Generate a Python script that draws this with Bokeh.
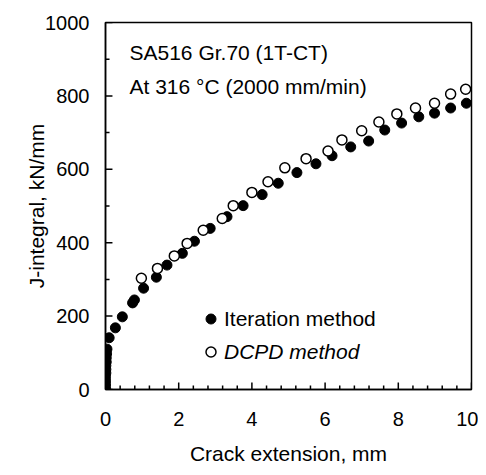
import numpy as np
from bokeh.plotting import figure
from bokeh.models import Range1d, Legend, LegendItem, Label, FixedTicker
from bokeh.embed import file_html
from bokeh.resources import INLINE

# Iteration method (filled)
iter_x = [0.00, 0.00, 0.00, 0.00, 0.00, 0.01, 0.01, 0.01, 0.02, 0.02, 0.03, 0.04,
          0.10, 0.27, 0.46, 0.74, 0.79, 1.04, 1.39, 1.68, 2.10, 2.43, 2.86, 3.32,
          3.76, 4.28, 4.72, 5.23, 5.75, 6.19, 6.70, 7.19, 7.63, 8.09, 8.56, 8.99,
          9.43, 9.86]
iter_j = [0, 8, 16, 25, 35, 45, 55, 65, 75, 86, 97, 110,
          141, 168, 198, 236, 244, 276, 306, 339, 371, 404, 439, 471,
          501, 531, 562, 591, 615, 637, 661, 677, 707, 726, 743, 753,
          767, 780]

# DCPD method (open)
dcpd_x = [0.98, 1.42, 1.88, 2.23, 2.67, 3.19, 3.49, 4.00, 4.44, 4.90,
          5.48, 6.08, 6.46, 7.00, 7.47, 7.96, 8.47, 8.99, 9.43, 9.84]
dcpd_j = [303, 330, 364, 398, 434, 466, 501, 537, 566, 604,
          629, 650, 680, 705, 729, 751, 767, 780, 805, 818]

# Axis ticks
x_ticks = [0, 2, 4, 6, 8, 10]
y_ticks = [0, 200, 400, 600, 800, 1000]
x_minor = [round(v, 1) for v in np.arange(0, 10.01, 0.4) if round(v, 1) not in x_ticks]
y_minor = [100, 300, 500, 700, 900]

X_MIN, X_MAX, Y_MIN, Y_MAX = 0, 10, 0, 1000
# tick lengths expressed in data units (~7 px major, ~4 px minor)
XT_MAJ, XT_MIN = 19, 11      # J units for ticks on the x axis
YT_MAJ, YT_MIN = 0.19, 0.11  # mm units for ticks on the y axis

FONT = "Liberation Sans"

p = figure(width=478, height=467, output_backend="svg", toolbar_location=None,
           x_range=Range1d(X_MIN, X_MAX), y_range=Range1d(Y_MIN, Y_MAX),
           min_border_left=105, min_border_right=7, min_border_top=22, min_border_bottom=77)

p.xgrid.visible = False
p.ygrid.visible = False
p.outline_line_color = "black"
p.outline_line_width = 1.5

p.xaxis.ticker = FixedTicker(ticks=x_ticks)
p.yaxis.ticker = FixedTicker(ticks=y_ticks)
for ax in (p.xaxis[0], p.yaxis[0]):
    ax.major_tick_in = 0
    ax.major_tick_out = 0
    ax.minor_tick_in = 0
    ax.minor_tick_out = 0
    ax.axis_line_width = 1.5
    ax.axis_line_color = "black"
    ax.major_label_text_font = FONT
    ax.major_label_text_font_size = "20px"
    ax.major_label_text_color = "black"
    ax.axis_label_text_font = FONT
    ax.axis_label_text_font_size = "21px"
    ax.axis_label_text_font_style = "normal"
    ax.axis_label_text_color = "black"

p.xaxis.axis_label = "Crack extension, mm"
p.yaxis.axis_label = "J-integral, kN/mm"
p.xaxis.major_label_standoff = 22
p.yaxis.major_label_standoff = 16
p.xaxis.axis_label_standoff = 13
p.yaxis.axis_label_standoff = -6

# inward tick marks drawn as segments from the tick lists
p.segment(x0=x_ticks, y0=[Y_MIN] * len(x_ticks), x1=x_ticks, y1=[Y_MIN + XT_MAJ] * len(x_ticks),
          line_color="black", line_width=1.5)
p.segment(x0=x_minor, y0=[Y_MIN] * len(x_minor), x1=x_minor, y1=[Y_MIN + XT_MIN] * len(x_minor),
          line_color="black", line_width=1.5)
p.segment(x0=[X_MIN] * len(y_ticks), y0=y_ticks, x1=[X_MIN + YT_MAJ] * len(y_ticks), y1=y_ticks,
          line_color="black", line_width=1.5)
p.segment(x0=[X_MIN] * len(y_minor), y0=y_minor, x1=[X_MIN + YT_MIN] * len(y_minor), y1=y_minor,
          line_color="black", line_width=1.5)

r1 = p.scatter(iter_x, iter_j, size=10, marker="circle", fill_color="black", line_color="black")
r2 = p.scatter(dcpd_x, dcpd_j, size=10, marker="circle", fill_color="white", line_color="black", line_width=1.5)

p.add_layout(Label(x=24, y=337, x_units="screen", y_units="screen", text="SA516 Gr.70 (1T-CT)",
                   text_baseline="alphabetic",
                   text_font=FONT, text_font_size="21px", text_color="black"))
p.add_layout(Label(x=24, y=303, x_units="screen", y_units="screen", text="At 316 °C (2000 mm/min)",
                   text_baseline="alphabetic",
                   text_font=FONT, text_font_size="21px", text_color="black"))

leg1 = Legend(items=[LegendItem(label="Iteration method", renderers=[r1])],
              location=(93, 58), background_fill_alpha=0, border_line_alpha=0,
              label_text_font=FONT, label_text_font_size="21px", label_text_color="black",
              glyph_width=25, glyph_height=25,
              label_height=25, label_standoff=1, padding=0, margin=0)
leg2 = Legend(items=[LegendItem(label="DCPD method", renderers=[r2])],
              location=(93, 25), background_fill_alpha=0, border_line_alpha=0,
              label_text_font=FONT, label_text_font_size="21px", label_text_font_style="italic",
              label_text_color="black",
              glyph_width=25, glyph_height=25, label_height=25, label_standoff=1, padding=0, margin=0)
p.add_layout(leg1, "center")
p.add_layout(leg2, "center")

open("out.html", "w").write(file_html(p, INLINE))
